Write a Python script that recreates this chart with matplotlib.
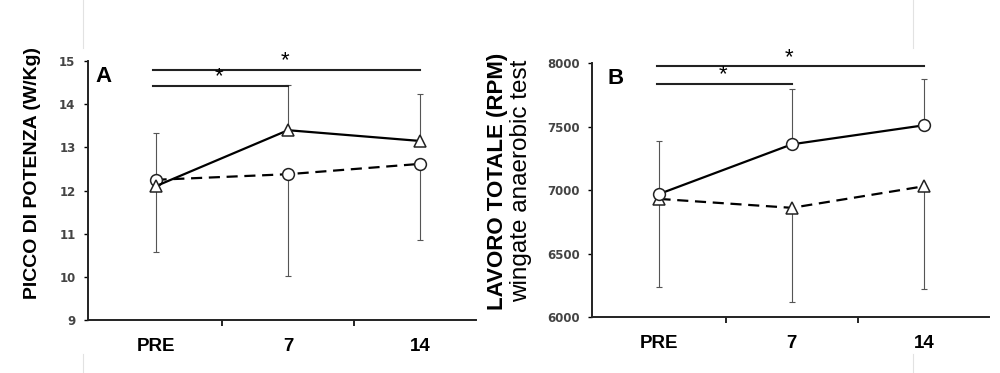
import matplotlib
matplotlib.use("Agg")
from matplotlib import pyplot as plt
from matplotlib.lines import Line2D

categories = ["PRE", "7", "14"]

# panel A - picco di potenza (W/Kg)
a_triangle = [12.1, 13.4, 13.15]
a_triangle_err_up = [1.23, 1.05, 1.1]
a_circle = [12.25, 12.38, 12.62]
a_circle_err_down = [1.67, 2.36, 1.77]
a_sig_levels = [14.42, 14.8]

# panel B - lavoro totale (RPM)
b_circle = [6970, 7360, 7510]
b_circle_err_up = [420, 435, 365]
b_triangle = [6930, 6860, 7030]
b_triangle_err_down = [695, 742, 810]
b_sig_levels = [7835, 7973]

x = list(range(len(categories)))
plt.rcParams['font.family'] = ['Liberation Sans', 'DejaVu Sans']

fig = plt.figure(figsize=(10, 3.73), dpi=100)
axA = fig.add_axes([0.088, 0.142, 0.388, 0.694])
axB = fig.add_axes([0.592, 0.150, 0.397, 0.681])

ERR = dict(fmt='none', ecolor='#555555', elinewidth=0.8, capsize=2, capthick=0.8)
MK = dict(color='black', markerfacecolor='white', markeredgecolor='#222222',
          markersize=8.5, markeredgewidth=1.1, linewidth=1.6)


def style(ax, ylim, yticks, xmax):
    ax.set_ylim(*ylim)
    ax.set_xlim(-0.51, xmax)
    ax.set_yticks(yticks)
    ax.set_yticklabels([str(t) for t in yticks], fontsize=8.5, fontweight='bold',
                       color='#444444', family='DejaVu Sans')
    ax.set_xticks([0.5, 1.5])
    ax.set_xticklabels([])
    ax.set_xticks(x, minor=True)
    ax.set_xticklabels(categories, minor=True, fontsize=13.5, fontweight='bold')
    ax.tick_params(axis='x', which='minor', length=0, pad=13)
    ax.tick_params(axis='x', which='major', length=4, width=1.2, direction='out')
    ax.tick_params(axis='y', length=3, width=1.0, direction='out', pad=6)
    for s in ['top', 'right']:
        ax.spines[s].set_visible(False)
    for s in ['left', 'bottom']:
        ax.spines[s].set_linewidth(1.4)
        ax.spines[s].set_color('#222222')


def sig_bars(ax, levels):
    # short bar PRE->7, long bar PRE->14
    ax.plot([x[0] - 0.02, x[1]], [levels[0]] * 2, color='#222222', lw=1.5, clip_on=False)
    ax.plot([x[0] - 0.02, x[2]], [levels[1]] * 2, color='#222222', lw=1.5, clip_on=False)
    ax.annotate('*', xy=((x[0] + x[1]) / 2 - 0.02, levels[0]), xytext=(0, -1),
                textcoords='offset points', ha='center', va='bottom', fontsize=16)
    ax.annotate('*', xy=((x[0] + x[2]) / 2 - 0.02, levels[1]), xytext=(0, -1),
                textcoords='offset points', ha='center', va='bottom', fontsize=16,
                annotation_clip=False)


# panel A
axA.errorbar(x, a_triangle, yerr=[[0, 0, 0], a_triangle_err_up], **ERR)
axA.errorbar(x, a_circle, yerr=[a_circle_err_down, [0, 0, 0]], **ERR)
axA.plot(x, a_circle, marker='o', linestyle=(0, (5, 3)), **MK)
axA.plot(x, a_triangle, marker='^', linestyle='-', **MK)
style(axA, (9, 15), [9, 10, 11, 12, 13, 14, 15], 2.42)
sig_bars(axA, a_sig_levels)
axA.text(0.02, 0.98, 'A', transform=axA.transAxes, fontsize=16, fontweight='bold',
         va='top', ha='left')
fig.text(0.033, 0.535, 'PICCO DI POTENZA (W/Kg)', rotation=90, fontsize=14,
         fontweight='bold', ha='center', va='center')

# panel B
axB.errorbar(x, b_circle, yerr=[[0, 0, 0], b_circle_err_up], **ERR)
axB.errorbar(x, b_triangle, yerr=[b_triangle_err_down, [0, 0, 0]], **ERR)
axB.plot(x, b_triangle, marker='^', linestyle=(0, (5, 3)), **MK)
axB.plot(x, b_circle, marker='o', linestyle='-', **MK)
style(axB, (6000, 8000), [6000, 6500, 7000, 7500, 8000], 2.49)
sig_bars(axB, b_sig_levels)
axB.text(0.04, 0.98, 'B', transform=axB.transAxes, fontsize=16, fontweight='bold',
         va='top', ha='left')
fig.text(0.498, 0.515, 'LAVORO TOTALE (RPM)', rotation=90, fontsize=16,
         fontweight='bold', ha='center', va='center')
fig.text(0.521, 0.515, 'wingate anaerobic test', rotation=90, fontsize=17.5,
         ha='center', va='center')

# faint scan guide lines
for xf in [0.083, 0.913]:
    fig.add_artist(Line2D([xf, xf], [0.87, 1.0], color='#e2e2e2', lw=0.8))
    fig.add_artist(Line2D([xf, xf], [0.0, 0.05], color='#e2e2e2', lw=0.8))

fig.savefig('out.png', dpi=100)
